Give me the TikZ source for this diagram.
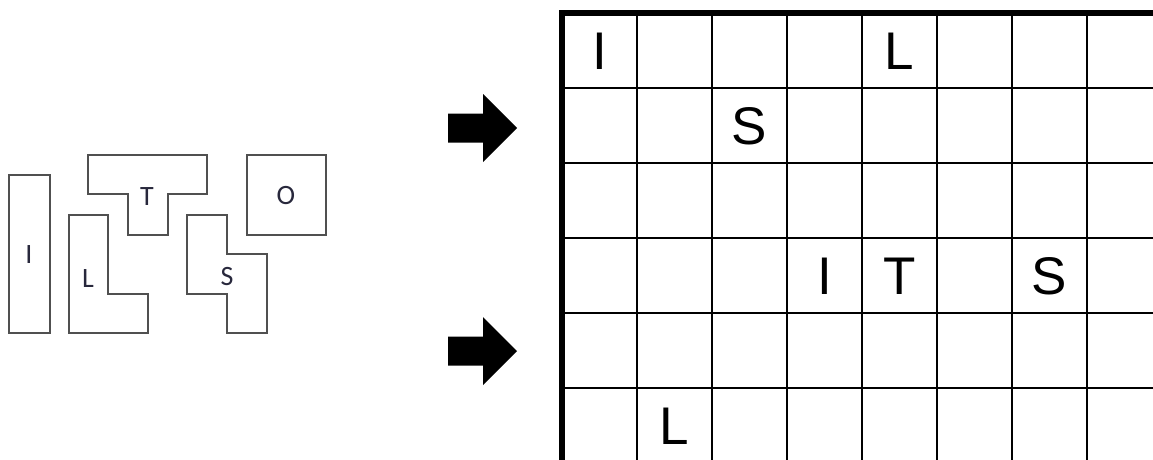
\documentclass[tikz,border=0pt]{standalone}
\usepackage{fontspec}
\setmainfont{Liberation Sans}
\newfontfamily\piecefont{Carlito}
\usetikzlibrary{positioning}
\definecolor{PieceGray}{RGB}{80,80,80}
\definecolor{PieceText}{RGB}{40,40,60}
\tikzset{
  piece/.style={draw=PieceGray,line width=2pt,line join=miter},
  plabel/.style={font=\piecefont\fontsize{28}{28}\selectfont,text=PieceText,inner sep=0pt},
  gridline/.style={draw=black,line width=2pt},
  border/.style={draw=black,line width=5.5pt},
  gletter/.style={font=\fontsize{53}{53}\selectfont,inner sep=0pt},
  bigarrow/.style={fill=black},
}

\begin{document}
\begin{tikzpicture}[x=1pt,y=-1pt]
  \useasboundingbox (0,0) rectangle (1153,459);
  % pieces
  \draw[piece] (9,175) rectangle (50,333);
  \node[plabel] (pI) at (29,255) {I};
  \draw[piece] (88,155) -- (207,155) -- (207,194) -- (168,194) -- (168,235) -- (128,235) -- (128,194) -- (88,194) -- cycle;
  \node[plabel] (pT) at (147,197) {T};
  \draw[piece] (247,155) rectangle (326,235);
  \node[plabel] (pO) at (286,196) {O};
  \draw[piece] (69,215) -- (108,215) -- (108,294) -- (148,294) -- (148,333) -- (69,333) -- cycle;
  \node[plabel] (pL) at (88,279) {L};
  \draw[piece] (187,215) -- (227,215) -- (227,254) -- (267,254) -- (267,333) -- (227,333) -- (227,294) -- (187,294) -- cycle;
  \node[plabel] (pS) at (227,277) {S};
  % arrows
  \foreach \ay in {128,351}
    \fill[bigarrow] (448,\ay-14.5) -- (483,\ay-14.5) -- (483,\ay-34) -- (517,\ay) -- (483,\ay+34) -- (483,\ay+14.5) -- (448,\ay+14.5) -- cycle;
  % grid
  \foreach \gx in {637,712,...,1087}
    \draw[gridline] (\gx,13) -- (\gx,460);
  \foreach \gy in {88,163,...,388}
    \draw[gridline] (562,\gy) -- (1154,\gy);
  \draw[border] (562,460) -- (562,13) -- (1154,13);
  \node[gletter] (gI1) at (599.5,51) {I};
  \node[gletter] (gL1) at (899.5,51) {L};
  \node[gletter] (gS1) at (749.5,126) {S};
  \node[gletter] (gI2) at (824.5,276) {I};
  \node[gletter] (gT) at (899.5,276) {T};
  \node[gletter] (gS2) at (1049.5,276) {S};
  \node[gletter] (gL2) at (674.5,426) {L};
\end{tikzpicture}
\end{document}
